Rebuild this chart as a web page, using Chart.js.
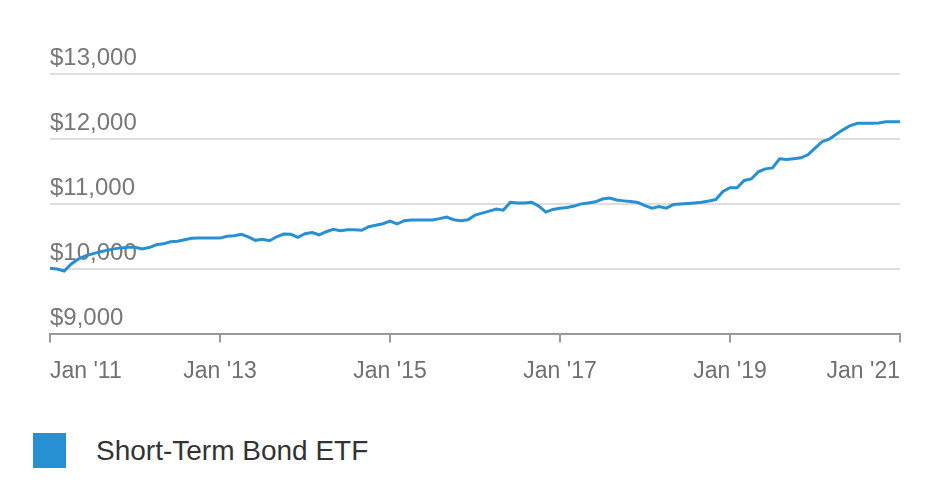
<!DOCTYPE html>
<html>
<head>
<meta charset="utf-8">
<script src="https://cdn.jsdelivr.net/npm/chart.js@4.4.0/dist/chart.umd.min.js"></script>
<style>
  html, body { margin: 0; padding: 0; background: #fff; }
  #wrap { position: absolute; left: 0; top: 0; width: 939px; height: 400px; }
  #legend { position: absolute; left: 33px; top: 433px; height: 35px; font-family: "Liberation Sans", Arial, sans-serif; font-size: 28px; color: #333; }
  #legend .box { position: absolute; left: 0; top: 0; width: 33px; height: 35px; }
  #legend .txt { position: absolute; left: 63px; top: 0; line-height: 35px; white-space: nowrap; }
</style>
</head>
<body>
<div id="wrap"><canvas id="myChart"></canvas></div>
<div id="legend"><span class="box"></span><span class="txt"></span></div>
<script>
const seriesName = 'Short-Term Bond ETF';
const lineColor = '#2690d3';

const monthNames = ['Jan', 'Feb', 'Mar', 'Apr', 'May', 'Jun', 'Jul', 'Aug', 'Sep', 'Oct', 'Nov', 'Dec'];
const years = [11, 12, 13, 14, 15, 16, 17, 18, 19, 20, 21];

// monthly categories, Jan '11 .. Jan '21
const categories = [];
years.forEach(y => {
  monthNames.forEach(m => {
    if (y === 21 && m !== 'Jan') return;
    categories.push(m + " '" + y);
  });
});

// growth of $10,000
const values = [
  10015, 10005, 9974, 10082, 10159, 10206, 10237, 10267, 10291, 10314, 10329, 10337,
  10337, 10314, 10334, 10376, 10391, 10422, 10430, 10453, 10476, 10479, 10479, 10479,
  10479, 10507, 10515, 10538, 10499, 10445, 10461, 10438, 10499, 10541, 10538, 10492,
  10546, 10566, 10530, 10577, 10615, 10592, 10608, 10608, 10600, 10654, 10677, 10700,
  10739, 10696, 10747, 10758, 10758, 10758, 10758, 10778, 10801, 10762, 10747, 10762,
  10832, 10863, 10894, 10925, 10909, 11030, 11017, 11017, 11030, 10971, 10878, 10920,
  10937, 10948, 10971, 11005, 11020, 11037, 11079, 11095, 11064, 11051, 11040, 11025,
  10979, 10940, 10963, 10940, 10994, 11002, 11010, 11020, 11030, 11048, 11071, 11195,
  11252, 11252, 11365, 11388, 11497, 11543, 11558, 11698, 11685, 11698, 11713, 11759,
  11860, 11960, 11999, 12076, 12146, 12208, 12242, 12242, 12242, 12246, 12266, 12266,
  12266
];

const yMin = 9000;
const yMax = 13000;
const yStep = 1000;

const ctx = document.getElementById('myChart');

new Chart(ctx, {
  type: 'line',
  data: {
    labels: categories,
    datasets: [{
      label: seriesName,
      data: values,
      borderColor: lineColor,
      backgroundColor: lineColor,
      borderWidth: 3,
      pointRadius: 0,
      tension: 0,
      fill: false
    }]
  },
  options: {
    responsive: true,
    maintainAspectRatio: false,
    animation: false,
    layout: { padding: { left: 50, right: 39, top: 74, bottom: 0 } },
    plugins: {
      legend: { display: false },
      tooltip: { enabled: false }
    },
    scales: {
      x: {
        grid: {
          drawOnChartArea: false,
          drawTicks: true,
          tickLength: 8,
          color: '#999',
          lineWidth: 2
        },
        border: { display: true, color: '#999', width: 2 },
        ticks: {
          autoSkip: false,
          maxRotation: 0,
          align: 'inner',
          padding: 15,
          color: '#707070',
          font: { family: 'Liberation Sans', size: 23 },
          callback: function (value, index) {
            return index % 24 === 0 ? this.getLabelForValue(value) : null;
          }
        }
      },
      y: {
        min: yMin,
        max: yMax,
        border: { display: false },
        grid: {
          drawTicks: false,
          lineWidth: 2,
          color: c => c.tick && c.tick.value === yMin ? 'rgba(0,0,0,0)' : '#dedede'
        },
        ticks: {
          stepSize: yStep,
          mirror: true,
          padding: 0,
          labelOffset: -16,
          color: '#777',
          font: { family: 'Liberation Sans', size: 24 },
          callback: v => '$' + v.toLocaleString('en-US')
        }
      }
    }
  }
});

document.querySelector('#legend .box').style.background = lineColor;
document.querySelector('#legend .txt').textContent = seriesName;
</script>
</body>
</html>
